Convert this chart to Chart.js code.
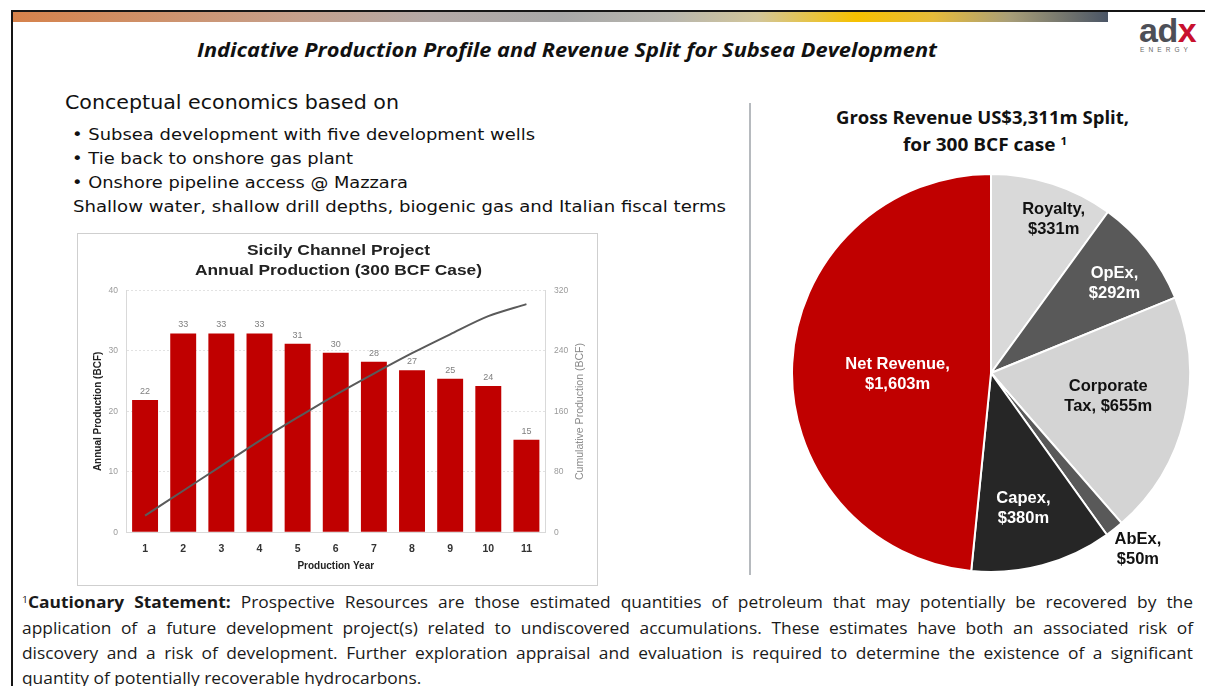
<!DOCTYPE html>
<html>
<head>
<meta charset="utf-8">
<script src="https://cdn.jsdelivr.net/npm/chart.js@4.4.1/dist/chart.umd.min.js"></script>
<style>
html,body{margin:0;padding:0;background:#fff;}
body{width:1205px;height:686px;overflow:hidden;position:relative;font-family:"Liberation Sans",Arial,sans-serif;color:#111;}
.t{position:absolute;white-space:nowrap;line-height:1;left:0;top:0;}
.slide-title{font-family:"Open Sans",sans-serif;font-weight:700;font-style:italic;font-size:19.5px;color:#111;}
.body1{font-family:"DejaVu Sans",sans-serif;font-size:19px;color:#111;}
.body2{font-family:"DejaVu Sans",sans-serif;font-size:16.5px;color:#111;}
.ctitle{font-family:"Liberation Sans",Arial,sans-serif;font-weight:700;font-size:14.5px;color:#222;}
.ptitle{font-family:"Open Sans",sans-serif;font-weight:700;font-size:17.5px;color:#111;}
.stmt{font-family:"Open Sans",sans-serif;font-size:15.5px;color:#1a1a1a;}
.stmt b{font-weight:700;}
sup{font-size:0.6em;vertical-align:0.55em;line-height:0;}
#topline{position:absolute;left:11px;top:10px;width:1194px;height:2px;background:#151515;}
#leftline{position:absolute;left:11px;top:10px;width:2px;height:676px;background:#151515;}
#grad{position:absolute;left:13px;top:12px;width:1095px;height:10px;
 background:linear-gradient(to right,#d6824b 0%,#cf9068 12%,#c6a08c 26%,#b4a9a6 38%,#a8a8a8 50%,#b8b6ae 60%,#d2c69a 68%,#f6c100 77%,#e6bb3a 84%,#a89e78 91%,#4a5566 100%);}
#sep{position:absolute;left:749px;top:103px;width:2px;height:472px;background:#b6babe;}
#box{position:absolute;left:77px;top:233px;width:521px;height:353px;box-sizing:border-box;border:1.5px solid #cfcfcf;}
#bar{position:absolute;left:78px;top:234px;}
#pie{position:absolute;left:791px;top:173px;}
#rtitle{position:absolute;white-space:nowrap;font-family:"Liberation Sans",Arial,sans-serif;font-size:10px;color:#8a8a8a;line-height:1;left:0;top:0;transform-origin:0 0;}
#logo{position:absolute;left:1139px;top:13px;font-family:"Liberation Sans",Arial,sans-serif;font-weight:700;font-size:34px;line-height:1;color:#4d4f57;letter-spacing:-0.5px;}
#logo span{color:#c8102e;}
#energy{position:absolute;left:1140px;top:47px;font-family:"Liberation Sans",Arial,sans-serif;font-size:6.5px;letter-spacing:4.1px;color:#6a6a6a;line-height:1;}
</style>
</head>
<body>
<div id="topline"></div>
<div id="leftline"></div>
<div id="grad"></div>
<div id="logo">ad<span>x</span></div>
<div id="energy">ENERGY</div>

<div class="t slide-title" data-l="197" data-w="740" data-cy="50">Indicative Production Profile and Revenue Split for Subsea Development</div>

<div class="t body1" data-l="65" data-w="334" data-cy="103">Conceptual economics based on</div>
<div class="t body2" data-l="72" data-w="463" data-cy="136">• Subsea development with five development wells</div>
<div class="t body2" data-l="72" data-w="281" data-cy="160">• Tie back to onshore gas plant</div>
<div class="t body2" data-l="72" data-w="336" data-cy="184">• Onshore pipeline access @ Mazzara</div>
<div class="t body2" data-l="73" data-w="653" data-cy="208">Shallow water, shallow drill depths, biogenic gas and Italian fiscal terms</div>

<div id="sep"></div>

<div id="box"></div>
<canvas id="bar" width="518" height="350"></canvas>
<div class="t ctitle" data-cx="338.5" data-w="183" data-cy="251">Sicily Channel Project</div>
<div class="t ctitle" data-cx="338" data-w="287" data-cy="270.5">Annual Production (300 BCF Case)</div>
<div id="rtitle">Cumulative Production (BCF)</div>

<div class="t ptitle" data-cx="982" data-w="293" data-cy="118">Gross Revenue US$3,311m Split,</div>
<div class="t ptitle" data-cx="985" data-w="164" data-cy="145">for 300 BCF case <sup>1</sup></div>
<canvas id="pie" width="400" height="400"></canvas>

<div class="t stmt just" data-l="22" data-w="1171" data-cy="603"><sup>1</sup><b>Cautionary Statement:</b> Prospective Resources are those estimated quantities of petroleum that may potentially be recovered by the</div>
<div class="t stmt just" data-l="22" data-w="1171" data-cy="629">application of a future development project(s) related to undiscovered accumulations. These estimates have both an associated risk of</div>
<div class="t stmt just" data-l="22" data-w="1171" data-cy="654">discovery and a risk of development. Further exploration appraisal and evaluation is required to determine the existence of a significant</div>
<div class="t stmt last" data-l="22" data-w="372" data-cy="679">quantity of potentially recoverable hydrocarbons.</div>

<script>
// ---------- data ----------
const years = ['1','2','3','4','5','6','7','8','9','10','11'];
const annualProduction = [21.9, 32.9, 32.9, 32.9, 31.2, 29.7, 28.2, 26.8, 25.4, 24.2, 15.3];
const cumulativeProduction = [22, 55, 88, 121, 152, 182, 210, 237, 262, 286, 302];
const annualTicks = [0, 10, 20, 30, 40];
const cumulativeTicks = [0, 80, 160, 240, 320];

const revenueCategories = ['Royalty', 'OpEx', 'Corporate Tax', 'AbEx', 'Capex', 'Net Revenue'];
const revenueValues = [331, 292, 655, 50, 380, 1603];
const revenueLabels = [['Royalty,', '$331m'], ['OpEx,', '$292m'], ['Corporate', 'Tax, $655m'], ['AbEx,', '$50m'], ['Capex,', '$380m'], ['Net Revenue,', '$1,603m']];

// ---------- styles ----------
const sliceColors = ['#d9d9d9', '#595959', '#d4d4d4', '#595959', '#262626', '#c00000'];
const sliceTextColors = ['#111', '#fff', '#111', '#111', '#fff', '#fff'];
const sliceLabelRadius = [0.84, 0.77, 0.6, 1.15, 0.69, 0.47];
const sliceLabelShift = [[11, 5], [3, 5], [1, -4], [5, -3], [-3, 3], [0, 6]];

Chart.defaults.font.family = '"Liberation Sans", Arial, sans-serif';

// ---------- text fitting ----------
function fitTexts() {
  const all = document.querySelectorAll('.t');
  all.forEach(el => { el.style.transform = 'none'; el.style.wordSpacing = '0px'; });
  const lastEl = document.querySelector('.stmt.last');
  const sLast = (+lastEl.dataset.w) / lastEl.getBoundingClientRect().width;
  let sMin = Infinity;
  document.querySelectorAll('.stmt.just').forEach(el => {
    sMin = Math.min(sMin, (+el.dataset.w) / el.getBoundingClientRect().width);
  });
  const sStmt = (sLast + sMin) / 2;
  all.forEach(el => {
    const W = +el.dataset.w;
    const fs = parseFloat(getComputedStyle(el).fontSize);
    const left = el.dataset.cx ? (+el.dataset.cx - W / 2) : +el.dataset.l;
    el.style.left = left + 'px';
    el.style.top = (+el.dataset.cy - fs * 0.52) + 'px';
    el.style.transformOrigin = '0 0';
    const w = el.getBoundingClientRect().width;
    if (el.classList.contains('just')) {
      const n = el.textContent.split(' ').length - 1;
      el.style.wordSpacing = ((W / sStmt - w) / n) + 'px';
      el.style.transform = 'scaleX(' + sStmt + ')';
    } else if (el.classList.contains('last')) {
      el.style.transform = 'scaleX(' + sStmt + ')';
    } else {
      el.style.transform = 'scaleX(' + (W / w) + ')';
    }
  });
  const rt = document.getElementById('rtitle');
  rt.style.transform = 'none';
  const rw = rt.getBoundingClientRect().width;
  const rs = 137 / rw;
  rt.style.left = (580 - 5) + 'px';
  rt.style.top = (411.5 + 137 / 2) + 'px';
  rt.style.transform = 'rotate(-90deg) scaleX(' + rs + ')';
}

// ---------- bar + line chart ----------
const barLabelPlugin = {
  id: 'barLabels',
  afterDatasetsDraw(chart) {
    const meta = chart.getDatasetMeta(1);
    const ctx = chart.ctx;
    ctx.save();
    ctx.font = '9px "Liberation Sans", Arial, sans-serif';
    ctx.fillStyle = '#808080';
    ctx.textAlign = 'center';
    ctx.textBaseline = 'alphabetic';
    meta.data.forEach((el, i) => {
      ctx.fillText(String(Math.round(annualProduction[i])), el.x, el.y - 6);
    });
    ctx.restore();
  }
};

new Chart(document.getElementById('bar'), {
  type: 'bar',
  data: {
    labels: years,
    datasets: [
      { type: 'line', data: cumulativeProduction, yAxisID: 'y2', borderColor: '#5a5a5a', borderWidth: 2,
        pointRadius: 0, tension: 0.3, fill: false, order: 0 },
      { type: 'bar', data: annualProduction, yAxisID: 'y', backgroundColor: '#c00000',
        barPercentage: 0.68, categoryPercentage: 1, order: 1 }
    ]
  },
  options: {
    responsive: false,
    animation: false,
    layout: { padding: { top: 56.5, left: 0, right: 0, bottom: 0 } },
    plugins: { legend: { display: false }, tooltip: { enabled: false } },
    scales: {
      x: {
        grid: { display: false, drawTicks: false },
        border: { color: '#d9d9d9', width: 1 },
        ticks: { color: '#333', font: { size: 10.5, weight: 'bold' }, padding: 10.7 },
        title: { display: true, text: 'Production Year', color: '#222', font: { size: 10, weight: 'bold' }, padding: { top: 0, bottom: 12 } },
        afterFit: s => { s.height = 51.7; }
      },
      y: {
        position: 'left', min: 0, max: 40,
        afterBuildTicks: s => { s.ticks = annualTicks.map(v => ({ value: v })); },
        grid: { color: '#e2e2e2', lineWidth: 1, drawTicks: false },
        border: { color: '#d9d9d9', width: 1, dash: [2, 2] },
        ticks: { color: '#9a9a9a', font: { size: 8.5 }, padding: 8 },
        title: { display: true, text: 'Annual Production (BCF)', color: '#222', font: { size: 10, weight: 'bold' }, padding: { top: 14, bottom: 0 } },
        afterFit: s => { s.width = 48; }
      },
      y2: {
        position: 'right', min: 0, max: 320,
        afterBuildTicks: s => { s.ticks = cumulativeTicks.map(v => ({ value: v })); },
        grid: { display: false, drawTicks: false },
        border: { color: '#d9d9d9', width: 1 },
        ticks: { color: '#9a9a9a', font: { size: 8.5 }, padding: 8.5 },
        afterFit: s => { s.width = 50.5; }
      }
    }
  },
  plugins: [barLabelPlugin]
});

// ---------- pie chart ----------
const pieLabelPlugin = {
  id: 'pieLabels',
  afterDatasetsDraw(chart) {
    const meta = chart.getDatasetMeta(0);
    const ctx = chart.ctx;
    ctx.save();
    ctx.font = 'bold 16.5px "Liberation Sans", Arial, sans-serif';
    ctx.textAlign = 'center';
    ctx.textBaseline = 'middle';
    meta.data.forEach((arc, i) => {
      const p = arc.getProps(['x', 'y', 'startAngle', 'endAngle', 'outerRadius'], true);
      const mid = (p.startAngle + p.endAngle) / 2;
      const r = p.outerRadius * sliceLabelRadius[i];
      const cx = p.x + Math.cos(mid) * r + sliceLabelShift[i][0];
      const cy = p.y + Math.sin(mid) * r + sliceLabelShift[i][1];
      ctx.fillStyle = sliceTextColors[i];
      const lines = revenueLabels[i];
      lines.forEach((ln, j) => {
        ctx.fillText(ln, cx, cy + (j - (lines.length - 1) / 2) * 20);
      });
    });
    ctx.restore();
  }
};

new Chart(document.getElementById('pie'), {
  type: 'pie',
  data: {
    labels: revenueCategories,
    datasets: [{ data: revenueValues, backgroundColor: sliceColors, borderColor: '#ffffff', borderWidth: 2 }]
  },
  options: {
    responsive: false,
    animation: false,
    layout: { padding: 0 },
    plugins: { legend: { display: false }, tooltip: { enabled: false } }
  },
  plugins: [pieLabelPlugin]
});

fitTexts();
if (document.fonts && document.fonts.ready) document.fonts.ready.then(fitTexts);
</script>
</body>
</html>
